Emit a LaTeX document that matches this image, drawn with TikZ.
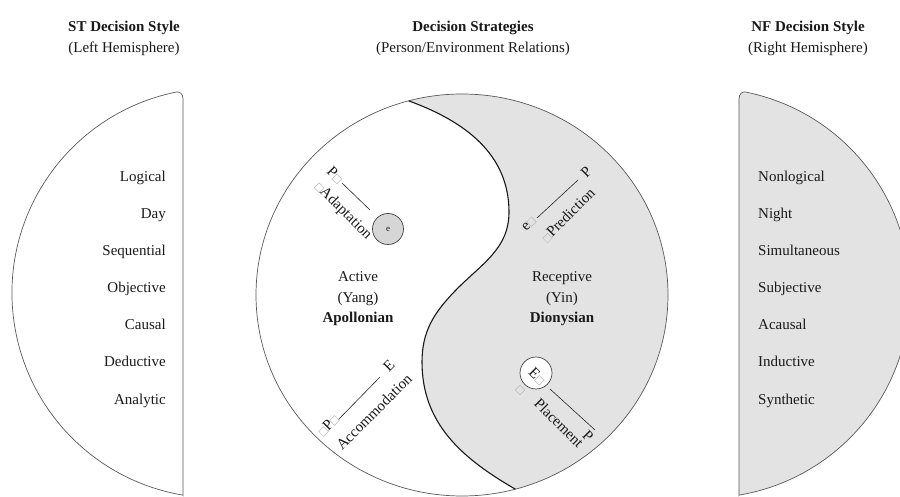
\documentclass[tikz,border=0pt]{standalone}
\usepackage{fontspec}
\setmainfont{Liberation Serif}
\usetikzlibrary{calc}
\newcommand{\bx}{{\color{gray!55}\setlength{\fboxsep}{0pt}\setlength{\fboxrule}{0.5pt}\fbox{\rule{0pt}{0.42em}\rule{0.42em}{0pt}}}}
\newcommand{\fsz}{\fontsize{15}{17}\selectfont}
\definecolor{yygray}{gray}{0.89}
\begin{document}
\begin{tikzpicture}[x=1pt,y=1pt,
  txt/.style={inner sep=0pt, font=\fsz, text=black!90},
  hdr/.style={txt, anchor=base},
  outl/.style={draw=black!65, line width=0.7pt},
  vec/.style={draw=black!85, line width=0.6pt}]
\useasboundingbox (0,0) rectangle (900,497);

% headers
\node[hdr, font=\fsz\bfseries] (h1a) at (124,465) {ST Decision Style};
\node[hdr] (h1b) at (124,444) {(Left Hemisphere)};
\node[hdr, font=\fsz\bfseries] (h2a) at (473,465) {Decision Strategies};
\node[hdr] (h2b) at (473,444) {(Person/Environment Relations)};
\node[hdr, font=\fsz\bfseries] (h3a) at (808,465) {NF Decision Style};
\node[hdr] (h3b) at (808,444) {(Right Hemisphere)};

% left D shape
\path[outl] (183,1.8) -- (183,398) .. controls (183,403.5) and (179.6,405.6) .. (176.1,404.9)
  arc[start angle=101.5, end angle=260.45, radius=205] -- cycle;
% right D shape
\path[outl, fill=yygray] (739,1.8) -- (739,398) .. controls (739,403.5) and (742.4,405.6) .. (745.9,404.9)
  arc[start angle=78.5, end angle=-80.45, radius=205] -- cycle;

% lists
\foreach \w/\y [count=\i] in {Logical/315,Day/278,Sequential/241,Objective/204,Causal/167,Deductive/130,Analytic/92}
  \node[txt, anchor=base east] (st\i) at (166,\y) {\w};
\foreach \w/\y [count=\i] in {Nonlogical/315,Night/278,Simultaneous/241,Subjective/204,Acausal/167,Inductive/130,Synthetic/92}
  \node[txt, anchor=base west] (nf\i) at (758,\y) {\w};

% yin-yang
\coordinate (O) at (462,202);
\coordinate (T) at ($(O)+(105:206 and 201)$);
\coordinate (U) at (509,285);
\coordinate (M) at (455,206);
\coordinate (L) at (422,135);
\coordinate (B) at ($(O)+(-75:206 and 201)$);
\path[fill=yygray] (T) to[out=-20,in=90] (U) to[out=-90,in=46] (M) to[out=-134,in=90] (L) to[out=-90,in=150] (B)
  arc[start angle=-75, end angle=105, x radius=206, y radius=201] -- cycle;
\draw[outl] (O) ellipse[x radius=206, y radius=201];
\draw[black!90, line width=1.1pt] (T) to[out=-20,in=90] (U) to[out=-90,in=46] (M) to[out=-134,in=90] (L) to[out=-90,in=150] (B);

% inner words
\node[hdr] (act) at (358,215) {Active};
\node[hdr] (yang) at (358,194) {(Yang)};
\node[hdr, font=\fsz\bfseries] (apo) at (358,174) {Apollonian};
\node[hdr] (rec) at (562,215) {Receptive};
\node[hdr] (yin) at (562,194) {(Yin)};
\node[hdr, font=\fsz\bfseries] (dio) at (562,174) {Dionysian};

% Adaptation
\node[circle, draw=black!75, line width=0.7pt, fill=black!16, minimum size=31pt, inner sep=0pt] (ce) at (388,268) {};
\node[txt, font=\fontsize{9}{10}\selectfont] (cetxt) at (388,268) {e};
\coordinate (a1) at (342,314);
\coordinate (a2) at (370,287);
\draw[vec] (a1) -- (a2);
\node[txt, rotate=-45] (adP) at (335,322) {P\bx};
\node[txt, rotate=-45] (adL) at (343,286) {\bx Adaptation};

% Prediction
\coordinate (p1) at (537,279);
\coordinate (p2) at (578,317);
\draw[vec] (p1) -- (p2);
\node[txt, rotate=45] (prP) at (586,325) {P};
\node[txt, rotate=45] (pre) at (529,273) {e\bx};
\node[txt, rotate=45] (prL) at (568,282) {\bx Prediction};

% Accommodation
\coordinate (c1) at (338,77);
\coordinate (c2) at (380,120);
\draw[vec] (c1) -- (c2);
\node[txt, rotate=45] (acE) at (389,131) {E};
\node[txt, rotate=45] (acP) at (328,72) {\bx P\bx};
\node[txt, rotate=45] (acL) at (374,85) {Accommodation};

% Placement
\node[circle, draw=black!75, line width=0.7pt, fill=white, minimum size=32pt, inner sep=0pt] (cE) at (536,124) {};
\node[txt, rotate=-45] (plE) at (537,121) {E\bx};
\node[txt, rotate=-45] (plb) at (520,107) {\bx};
\coordinate (q1) at (550,108);
\coordinate (q2) at (595,67);
\draw[vec] (q1) -- (q2);
\node[txt, rotate=-45] (plP) at (588,61) {P};
\node[txt, rotate=-45] (plL) at (559,74) {Placement};
\end{tikzpicture}
\end{document}
